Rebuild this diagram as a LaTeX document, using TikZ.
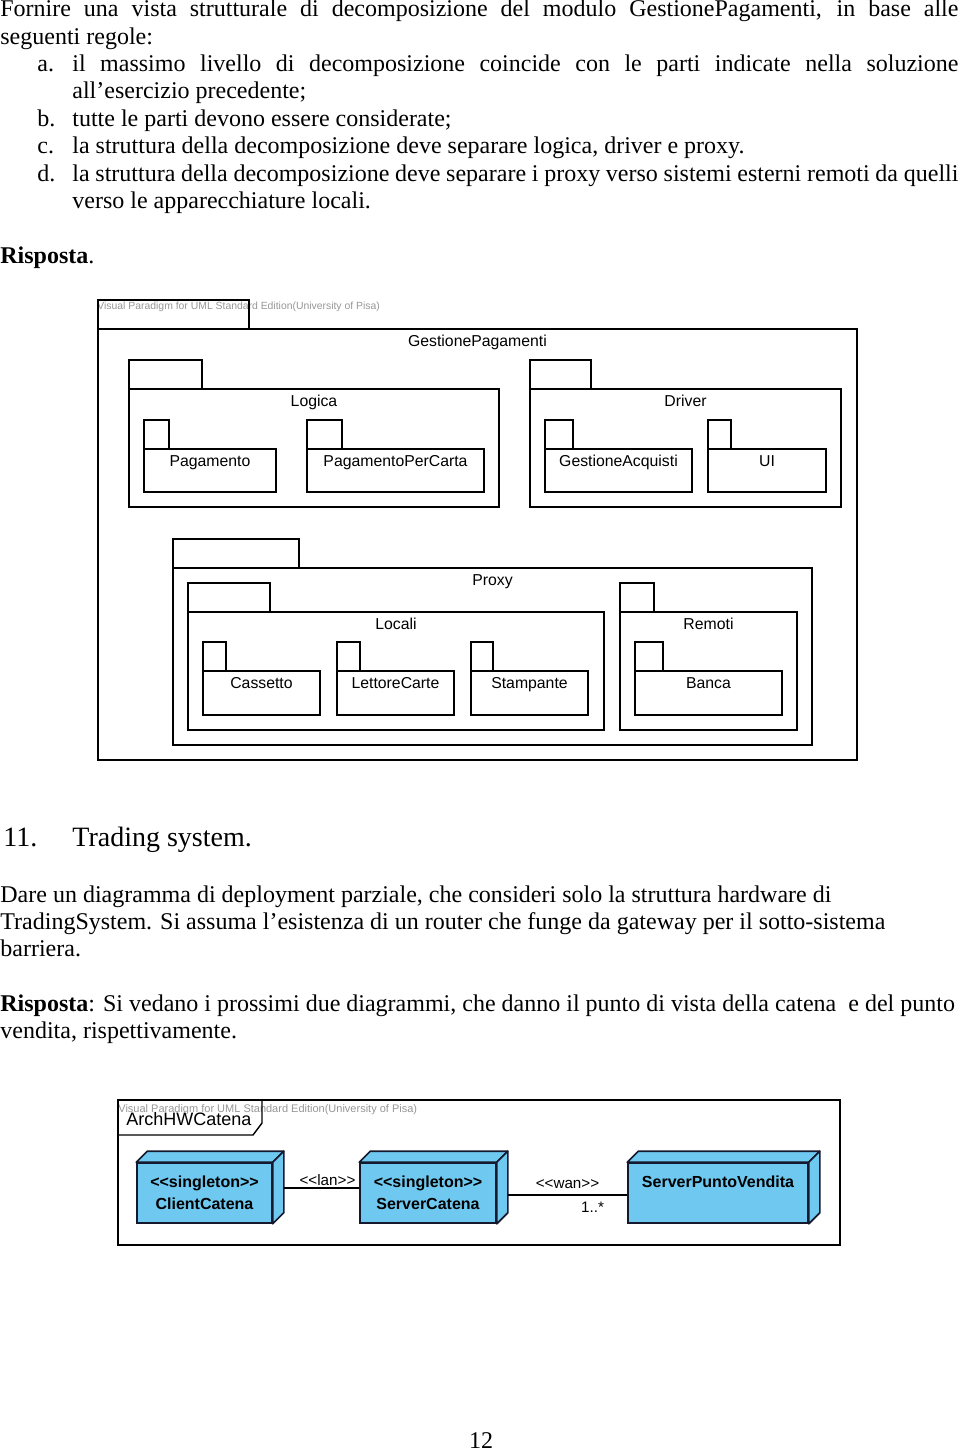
\documentclass[tikz,border=0pt]{standalone}
\usepackage{fontspec}
\setmainfont{Liberation Serif}
\newfontfamily\vpfont{Liberation Sans}
\usetikzlibrary{positioning}

\definecolor{nodeblue}{RGB}{110,200,240}
\definecolor{markgrey}{RGB}{150,150,150}
\definecolor{nodeedge}{RGB}{20,25,45}

\tikzset{
  bodytext/.style={anchor=base west, inner sep=0pt, font=\fontsize{12}{13.8}\selectfont},
  headtext/.style={anchor=base west, inner sep=0pt, font=\fontsize{14}{16}\selectfont},
  pkgline/.style={draw, line width=1pt},
  pkglabel/.style={anchor=base, inner sep=0pt, font=\vpfont\fontsize{7.9}{9}\selectfont},
  vpmark/.style={anchor=west, inner sep=0pt, text=markgrey, font=\vpfont\fontsize{5.2}{6}\selectfont},
  frameline/.style={draw, line width=0.7pt},
  devnode/.style={draw=nodeedge, fill=nodeblue, line width=0.8pt, align=center,
    inner sep=0pt, font=\vpfont\bfseries\fontsize{8}{11}\selectfont},
  devside/.style={draw=nodeedge, fill=nodeblue, line width=0.8pt, line join=round},
  conn/.style={draw, line width=0.6pt},
  connlabel/.style={inner sep=1pt, font=\vpfont\fontsize{7.6}{9}\selectfont}
}

% package: name, left x, tab right x, body right x, tab top y, body top y, body bottom y, label
\newcommand{\pkg}[8]{%
  \draw[pkgline] (#2,#5) rectangle (#3,#6);
  \draw[pkgline] (#2,#6) rectangle (#4,#7);
  \node[pkglabel] (#1) at ({(#2+#4)/2},{#6+17}) {#8};
}

\begin{document}
\begin{tikzpicture}[x=0.5pt,y=-0.5pt]
  \useasboundingbox (0,0) rectangle (960,1451);

  % text before the first diagram
  \node[bodytext] (intro1) at (0,17) {\makebox[479pt][s]{Fornire una vista strutturale di decomposizione del modulo GestionePagamenti, in base alle}};
  \node[bodytext] (intro2) at (0,44) {seguenti regole:};
  \node[bodytext] (ra) at (37,71) {a.};
  \node[bodytext] (ra1) at (72,71) {\makebox[443pt][s]{il massimo livello di decomposizione coincide con le parti indicate nella soluzione}};
  \node[bodytext] (ra2) at (72,98) {all’esercizio precedente;};
  \node[bodytext] (rb) at (37,126) {b.};
  \node[bodytext] (rb1) at (72,126) {tutte le parti devono essere considerate;};
  \node[bodytext] (rc) at (37,153) {c.};
  \node[bodytext] (rc1) at (72,153) {la struttura della decomposizione deve separare logica, driver e proxy.};
  \node[bodytext] (rd) at (37,181) {d.};
  \node[bodytext] (rd1) at (72,181) {\makebox[443pt][s]{la struttura della decomposizione deve separare i proxy verso sistemi esterni remoti da quelli}};
  \node[bodytext] (rd2) at (72,208) {verso le apparecchiature locali.};
  \node[bodytext] (risp1) at (0,263) {\textbf{Risposta}.};

  % package diagram
  \node[vpmark] (mark1) at (97,307) {Visual Paradigm for UML Standard Edition(University of Pisa)};
  \pkg{gestpag}{98}{249}{857}{300}{329}{760}{GestionePagamenti}
  \pkg{logica}{129}{202}{499}{360}{389}{507}{Logica}
  \pkg{pagamento}{144}{169}{276}{420}{449}{492}{Pagamento}
  \pkg{pagcarta}{307}{342}{484}{420}{449}{492}{PagamentoPerCarta}
  \pkg{driver}{530}{591}{841}{360}{389}{507}{Driver}
  \pkg{gestacq}{545}{573}{692}{420}{449}{492}{GestioneAcquisti}
  \pkg{ui}{708}{731}{826}{420}{449}{492}{UI}
  \pkg{proxy}{173}{299}{812}{539}{568}{745}{Proxy}
  \pkg{locali}{188}{270}{604}{583}{612}{730}{Locali}
  \pkg{cassetto}{203}{226}{320}{642}{671}{715}{Cassetto}
  \pkg{lettore}{337}{360}{454}{642}{671}{715}{LettoreCarte}
  \pkg{stampante}{471}{493}{588}{642}{671}{715}{Stampante}
  \pkg{remoti}{620}{654}{797}{583}{612}{730}{Remoti}
  \pkg{banca}{635}{663}{782}{642}{671}{715}{Banca}

  % exercise 11
  \node[headtext] (num11) at (3,846) {11.};
  \node[headtext] (title11) at (72,846) {Trading system.};
  \node[bodytext] (ex1) at (0,902) {Dare un diagramma di deployment parziale, che consideri solo la struttura hardware di};
  \node[bodytext] (ex2) at (0,929) {TradingSystem. Si assuma l’esistenza di un router che funge da gateway per il sotto-sistema};
  \node[bodytext] (ex3) at (0,956) {barriera.};
  \node[bodytext] (risp2) at (0,1011) {\textbf{Risposta}: Si vedano i prossimi due diagrammi, che danno il punto di vista della catena\ \ e del punto};
  \node[bodytext] (risp3) at (0,1038) {vendita, rispettivamente.};

  % deployment diagram
  \node[vpmark, font=\vpfont\fontsize{5.5}{6}\selectfont] (mark2) at (118,1110) {Visual Paradigm for UML Standard Edition(University of Pisa)};
  \draw[frameline] (118,1100) rectangle (840,1245);
  \draw[frameline] (118,1135) -- (253,1135) -- (262,1123) -- (262,1100);
  \node[anchor=west, inner sep=0pt, font=\vpfont\fontsize{9}{10}\selectfont] (archhw) at (126,1119) {ArchHWCatena};

  \node[devnode, minimum width=67.5pt, minimum height=30pt] (client) at (204.5,1193) {<<singleton>>\\ClientCatena};
  \node[devnode, minimum width=68pt, minimum height=30pt] (server) at (428,1193) {<<singleton>>\\ServerCatena};
  \node[devnode, minimum width=90pt, minimum height=30pt] (spv) at (718,1193) {ServerPuntoVendita\\\mbox{}};
  \foreach \n in {client,server,spv} {
    \draw[devside] (\n.north west) -- ++(11,-11) -- ([shift={(11,-11)}]\n.north east) -- (\n.north east) -- cycle;
    \draw[devside] (\n.north east) -- ([shift={(11,-11)}]\n.north east) -- ([shift={(11,-11)}]\n.south east) -- (\n.south east) -- cycle;
  }

  \draw[conn] ([shift={(11,-5)}]client.east) -- ([shift={(0,-5)}]server.west)
    node[connlabel, midway, above, xshift=3pt] (lan) {<<lan>>};
  \draw[conn] ([shift={(11,2)}]server.east) -- ([shift={(0,2)}]spv.west)
    node[connlabel, midway, above=2pt] (wan) {<<wan>>}
    node[connlabel, pos=0.71, below=2pt] (mult) {1..*};

  \node[anchor=base, inner sep=0pt, font=\fontsize{12}{13.8}\selectfont] (pagenum) at (481,1448) {12};
\end{tikzpicture}
\end{document}
